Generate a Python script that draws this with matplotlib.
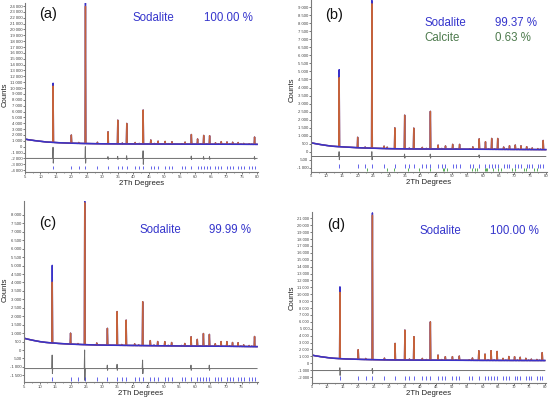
import numpy as np
import matplotlib
matplotlib.use("Agg")
import matplotlib.pyplot as plt
from matplotlib.ticker import FuncFormatter, MultipleLocator

plt.rcParams['font.family'] = ['Liberation Sans', 'DejaVu Sans']

# ---------------- data ----------------
# Sodalite reflection positions (2-theta, degrees)
bragg_sod = [14.09, 19.98, 22.37, 24.54, 28.41, 31.84, 34.98, 36.45, 37.88, 40.61,
             41.91, 43.19, 45.65, 46.84, 48.01, 50.29, 51.40, 52.50, 55.69, 56.73,
             58.77, 60.77, 61.76, 62.74, 63.70, 64.66, 66.56, 67.50, 68.43, 70.28,
             71.19, 72.10, 73.90, 74.80, 75.68, 77.45, 78.32, 79.19]
# Calcite reflection positions (panel b)
bragg_cal = [23.06, 29.41, 31.43, 35.97, 39.42, 43.16, 47.12, 47.51, 48.52, 56.58,
             57.42, 58.09, 60.70, 61.00, 61.39, 63.09, 64.68, 65.62, 69.21, 70.27,
             72.94, 73.73, 76.33, 77.17]

# Background anchors (2-theta, counts)
bg_x = [5, 6, 8, 10, 12, 16, 21, 26, 30, 39, 50, 60, 70, 80]
bg_a = [1300, 1200, 1050, 920, 800, 680, 580, 530, 500, 470, 450, 430, 420, 400]
bg_b = [560, 520, 450, 390, 340, 290, 240, 210, 190, 170, 160, 150, 140, 130]
bg_c = [700, 650, 570, 500, 450, 390, 340, 310, 290, 270, 250, 230, 220, 200]
bg_d = [1200, 1100, 950, 830, 730, 630, 560, 520, 490, 460, 440, 420, 410, 400]

# Peak heights above background (observed), one per sodalite reflection
h_a = [10100, 1400, 150, 24000, 250, 2050, 4050, 150, 3500, 250, 100, 5800, 700, 100,
       500, 450, 80, 400, 80, 350, 1650, 900, 80, 1500, 80, 1450, 250, 60, 450, 400,
       60, 350, 300, 60, 150, 100, 60, 1250]
h_b = [4800, 650, 60, 9200, 150, 1300, 2100, 50, 1300, 100, 40, 2350, 250, 40, 200,
       300, 30, 300, 30, 150, 650, 470, 30, 680, 30, 680, 150, 30, 230, 280, 30, 230,
       180, 30, 100, 60, 30, 570]
h_c = [4600, 650, 50, 8500, 120, 1000, 2000, 50, 1500, 100, 40, 2600, 300, 40, 250,
       250, 30, 200, 30, 150, 550, 400, 30, 750, 30, 700, 150, 30, 280, 280, 30, 230,
       220, 30, 100, 60, 30, 600]
h_d = [10400, 1400, 150, 21250, 250, 2400, 4350, 150, 3400, 250, 100, 5550, 750, 100,
       520, 530, 80, 620, 80, 350, 1400, 920, 80, 1420, 80, 1300, 300, 60, 570, 550, 60,
       470, 320, 60, 200, 150, 60, 1150]
# Calculated heights where they differ from observed (index: height above bg)
calc_a = {0: 9600, 3: 23400}
calc_b = {0: 4300, 3: 9000}
calc_c = {0: 3600, 3: 8400}
calc_d = {0: 9600, 3: 20900}
# Calcite contribution in panel b (2-theta, height)
cal_peak_b = [(29.41, 90)]

# Difference curve: offset and spikes (2-theta, up, down)
diff_a = (-2000, [(14.09, 1900, 800), (24.54, 2000, 800), (31.84, 300, 150), (34.98, 350, 150),
                  (37.88, 450, 200), (43.19, 1300, 1000), (58.77, 400, 200), (62.74, 300, 150),
                  (64.66, 300, 150), (79.19, 300, 150)])
diff_b = (-300, [(14.09, 300, 200), (24.54, 300, 200), (34.98, 150, 100), (43.19, 150, 100),
                 (58.77, 100, 80)])
diff_c = (-1100, [(14.09, 800, 300), (24.54, 1100, 700), (31.84, 200, 100), (34.98, 250, 100),
                  (43.19, 500, 300), (58.77, 200, 100), (64.66, 200, 100)])
diff_d = (-1050, [(14.09, 400, 700), (24.54, 300, 400)])

panels = [
    dict(label="(a)", rect=(25, 258, 2.5, 172), ylim=(-4315, 24600), ystep=1000,
         yt=(-4000, 24000), bg=bg_a, h=h_a, calc=calc_a, diff=diff_a,
         sod_rows=(-3300, -3850), xlabs=80, counts=(5, 95), ts=3.1,
         texts=[("Sodalite", "100.00 %", "#3535cc", 18)], lab_pos=(48, 14), tx=(132.5, 204)),
    dict(label="(b)", rect=(310.7, 546.7, 0, 171.7), ylim=(-1247, 9455), ystep=500,
         yt=(-1000, 9000), bg=bg_b, h=h_b, calc=calc_b, diff=diff_b,
         sod_rows=(-780, -1000), cal_rows=(-1020, -1220), xlabs=80, counts=(292, 90), ts=3.1,
         texts=[("Sodalite", "99.37 %", "#3535cc", 22.7), ("Calcite", "0.63 %", "#4d7a4d", 37.7)],
         lab_pos=(334, 15), tx=(424.3, 495)),
    dict(label="(c)", rect=(24, 258, 200.5, 382.3), ylim=(-1914, 8859), ystep=500,
         yt=(-1500, 8000), bg=bg_c, h=h_c, calc=calc_c, diff=diff_c,
         sod_rows=(-1620, -1860), xlabs=75, counts=(5, 290), ts=3.1,
         texts=[("Sodalite", "99.99 %", "#3535cc", 230)], lab_pos=(48, 223.5), tx=(139.3, 209.3)),
    dict(label="(d)", rect=(311.7, 545.7, 212, 382.7), ylim=(-2810, 21912), ystep=1000,
         yt=(-2000, 21000), bg=bg_d, h=h_d, calc=calc_d, diff=diff_d,
         sod_rows=(-1900, -2450), xlabs=80, counts=(292, 298), ts=2.9,
         texts=[("Sodalite", "100.00 %", "#3535cc", 230.7)], lab_pos=(336, 225), tx=(419, 490)),
]

W, H = 550, 399
fig = plt.figure(figsize=(W / 100, H / 100), dpi=100)

OBS = "#3a32c8"
CALC = "#c4623c"
DIFF = "#6e6e6e"
TICKB = "#4a4ae6"
TICKG = "#3fa03f"
SPINE = "#7a7a7a"


def build_pattern(bg, heights, overrides, extra=(), w=0.13):
    xs = list(bg_x)
    ys = list(bg)
    for i, (p, hh) in enumerate(zip(bragg_sod, heights)):
        hh = overrides.get(i, hh)
        base = float(np.interp(p, bg_x, bg))
        xs += [p - w, p, p + w]
        ys += [base, base + hh, base]
    for p, hh in extra:
        base = float(np.interp(p, bg_x, bg))
        xs += [p - w, p, p + w]
        ys += [base, base + hh, base]
    order = np.argsort(xs, kind="stable")
    return np.array(xs)[order], np.array(ys)[order]


def build_diff(diff):
    off, spikes = diff
    xs = [5.0]
    ys = [off]
    for p, up, dn in spikes:
        xs += [p - 0.15, p - 0.03, p + 0.05, p + 0.15]
        ys += [off, off + up, off - dn, off]
    xs.append(80.0)
    ys.append(off)
    return xs, ys


fmt = FuncFormatter(lambda v, _: f"{int(round(v)):,}".replace(",", " "))

for P in panels:
    l, r, t, b = P["rect"]
    ax = fig.add_axes([l / W, 1 - b / H, (r - l) / W, (b - t) / H])
    ax.set_xlim(5, 80.3)
    ax.set_ylim(*P["ylim"])
    for s in ("top", "right"):
        ax.spines[s].set_visible(False)
    for s in ("left", "bottom"):
        ax.spines[s].set_color(SPINE)
        ax.spines[s].set_linewidth(0.8)

    extra = cal_peak_b if P["label"] == "(b)" else ()
    xo, yo = build_pattern(P["bg"], P["h"], {}, extra)
    xc, yc = build_pattern(P["bg"], P["h"], P["calc"], extra)
    ax.plot(xo, yo, color=OBS, lw=1.0)
    ax.plot(xc, yc, color=CALC, lw=1.0)
    # observed background on top (blue noisy baseline look)
    ax.plot(bg_x, P["bg"], color=OBS, lw=1.1)

    dx, dy = build_diff(P["diff"])
    ax.plot(dx, dy, color=DIFF, lw=0.7)

    lo, hi = P["sod_rows"]
    ax.vlines(bragg_sod, hi, lo, color=TICKB, lw=0.6)
    if "cal_rows" in P:
        lo2, hi2 = P["cal_rows"]
        ax.vlines(bragg_cal, hi2, lo2, color=TICKG, lw=0.6)

    y0, y1 = P["yt"]
    ax.set_yticks(np.arange(y0, y1 + 1, P["ystep"]))
    ax.yaxis.set_major_formatter(fmt)
    xt = list(range(5, 81, 5))
    ax.set_xticks(xt)
    ax.set_xticklabels([str(v) if v <= P["xlabs"] else "" for v in xt])
    ax.xaxis.set_minor_locator(MultipleLocator(2.5))
    ax.tick_params(axis="both", which="major", labelsize=P["ts"], length=1.2, width=0.5,
                   pad=0.6, colors="#444444")
    ax.tick_params(axis="x", which="minor", length=0.9, width=0.4, colors="#444444")

    ax.set_xlabel("2Th Degrees", fontsize=5.6, labelpad=0.8, color="#222222")
    cx, cy = P["counts"]
    fig.text(cx / W, 1 - cy / H, "Counts", fontsize=5.6, rotation=90,
             ha="center", va="center", color="#222222")

    fx, fy = P["lab_pos"]
    fig.text(fx / W, 1 - fy / H, P["label"], fontsize=10.5, ha="center", va="center",
             color="#111111")
    t1, t2 = P["tx"]
    for name, pct, col, yy in P["texts"]:
        fig.text(t1 / W, 1 - yy / H, name, fontsize=8.3, ha="left", va="center", color=col)
        fig.text(t2 / W, 1 - yy / H, pct, fontsize=8.3, ha="left", va="center", color=col)

fig.savefig("out.png", dpi=100)
